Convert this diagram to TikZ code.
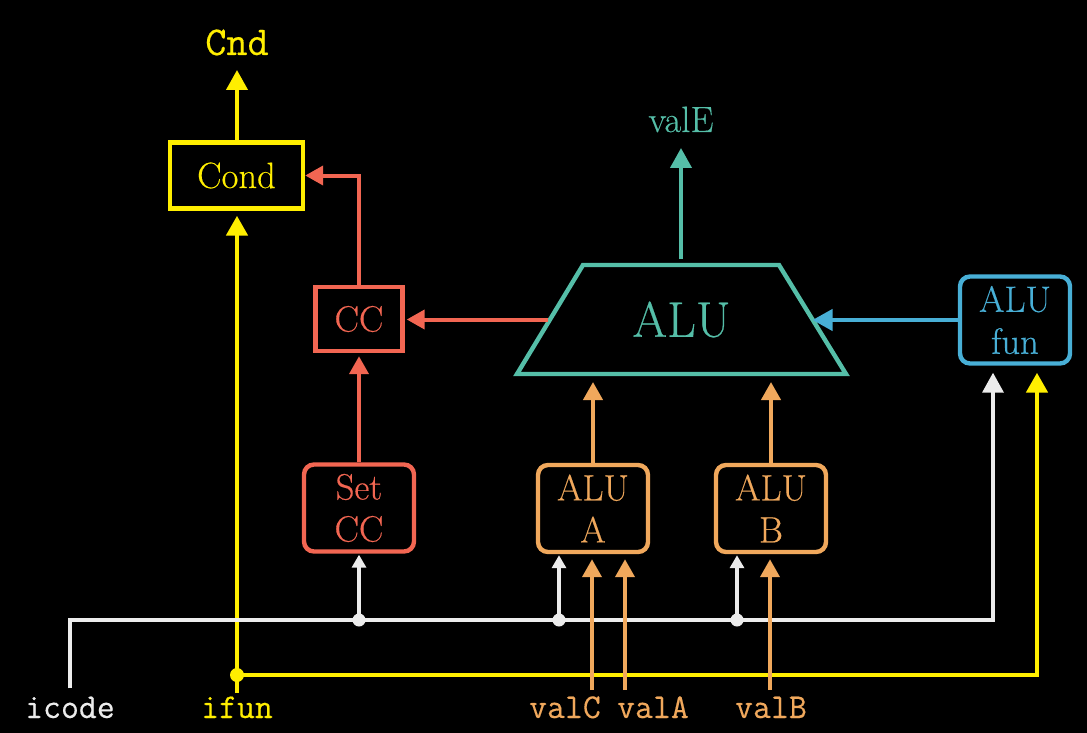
\documentclass[tikz,border=0pt]{standalone}
\usepackage{fontspec}
\setmainfont{Latin Modern Roman}[FakeBold=0.35]
\setmonofont{Latin Modern Mono}[FakeBold=0.35]
\usetikzlibrary{arrows.meta}
\definecolor{cyel}{RGB}{255,238,0}
\definecolor{cred}{RGB}{242,102,82}
\definecolor{corg}{RGB}{240,168,92}
\definecolor{cteal}{RGB}{85,190,168}
\definecolor{cblue}{RGB}{72,175,214}
\definecolor{cwht}{RGB}{236,236,236}
\begin{document}
\begin{tikzpicture}[x=0.5pt,y=-0.5pt,
  box/.style={draw, line width=2.2pt, inner sep=0pt, align=center, font=\fontsize{18.3}{21}\selectfont},
  rbox/.style={box, rounded corners=5pt, minimum width=55pt, minimum height=43.5pt},
  wire/.style={line width=2pt},
  bigarr/.style={-{Triangle[length=10pt,width=10.5pt]}},
  midarr/.style={-{Triangle[length=9pt,width=9.5pt]}},
  smallarr/.style={-{Triangle[length=6.5pt,width=7pt]}},
  ttlbl/.style={font=\fontsize{17.4}{17.4}\selectfont\ttfamily, inner sep=0pt, anchor=base},
  line join=miter
]
\fill[black] (0,0) rectangle (1087,733);
\useasboundingbox (0,0) rectangle (1087,733);

% nodes
\node[box, cyel, minimum width=66.5pt, minimum height=33pt] (cond) at (236.5,175.5) {Cond};
\node[font=\fontsize{20.5}{20.5}\selectfont\ttfamily, text=cyel, inner sep=0pt, anchor=base] (cnd) at (237,55) {Cnd};
\node[box, cred, minimum width=43.5pt, minimum height=32pt] (cc) at (359,319) {CC};
\node[rbox, cred] (setcc) at (359,508) {Set\\CC};
\node[rbox, corg] (alua) at (593,508.5) {ALU\\A};
\node[rbox, corg] (alub) at (771,508.5) {ALU\\B};
\node[rbox, cblue] (alufun) at (1015,320) {ALU\\fun};
\node[text=cteal, inner sep=0pt, font=\fontsize{25}{25}\selectfont] (alu) at (681.5,319.5) {ALU};
\node[text=cteal, font=\fontsize{18.3}{18.3}\selectfont, inner sep=0pt, anchor=base] (vale) at (681,132) {valE};

% ALU trapezoid outline and its anchor points
\coordinate (alutl) at (583,265);
\coordinate (alutr) at (779,265);
\coordinate (alubr) at (846,374);
\coordinate (alubl) at (517,374);
\coordinate (aluleft) at (550,319.5);
\coordinate (aluright) at (812.5,319.5);
\coordinate (alutop) at (681,265);
\coordinate (alubot) at (681,374);
\draw[cteal, line width=2.2pt, line join=miter] (alutl) -- (alutr) -- (alubr) -- (alubl) -- cycle;

\node[ttlbl, text=cwht] (icode) at (70,718) {icode};
\node[ttlbl, text=cyel] (ifun) at (237,718) {ifun};
\node[ttlbl, text=corg] (valc) at (565,718) {valC};
\node[ttlbl, text=corg] (vala) at (653,718) {valA};
\node[ttlbl, text=corg] (valb) at (771,718) {valB};

% junction coordinates
\coordinate (w0) at (70,620);
\coordinate (wd1) at (359,620);
\coordinate (wd2) at (559,620);
\coordinate (wd3) at (737,620);
\coordinate (w4) at (993,620);
\coordinate (yd) at (237,675);
\coordinate (y4) at (1037,675);
\coordinate (oc) at (592,690);
\coordinate (oa) at (625,690);
\coordinate (ob) at (770,690);

% yellow
\draw[wire, cyel, bigarr, shorten >=7.5pt] (cnd.base |- cond.north) -- (cnd.base);
\draw[wire, cyel, line width=2.4pt, bigarr, shorten >=2.5pt] ([yshift=1.5pt]ifun.north) -- (ifun.north |- cond.south);
\draw[wire, cyel, line width=2.4pt, bigarr, shorten >=3.5pt] (yd) -- (y4) -- (y4 |- alufun.south);
\fill[cyel] (yd) circle (3.5pt);

% white
\draw[wire, cwht, line width=1.8pt, bigarr, shorten >=3.5pt] ([yshift=4pt]icode.north) -- (w0) -- (w4) -- (w4 |- alufun.south);
\foreach \p/\n in {wd1/setcc, wd2/alua, wd3/alub}{
  \fill[cwht] (\p) circle (3.25pt);
  \draw[wire, cwht, line width=1.8pt, smallarr, shorten >=0.5pt] (\p) -- (\p |- \n.south);
}

% orange
\draw[wire, corg, midarr, shorten >=2.5pt] (oc) -- (oc |- alua.south);
\draw[wire, corg, midarr, shorten >=2.5pt] (oa) -- (oa |- alua.south);
\draw[wire, corg, midarr, shorten >=2.5pt] (ob) -- (ob |- alub.south);
\draw[wire, corg, midarr, shorten >=4pt] (alua.north) -- (alua.north |- alubot);
\draw[wire, corg, midarr, shorten >=4pt] (alub.north) -- (alub.north |- alubot);

% red
\draw[wire, cred, midarr, shorten >=1.5pt] (setcc.north) -- (cc.south);
\draw[wire, cred, midarr, shorten >=1pt] ([xshift=-1pt]aluleft) -- (aluleft -| cc.east);
\draw[wire, cred, midarr] (cc.north) |- (cond.east);

% blue
\draw[wire, cblue, bigarr] (alufun.west) -- (alufun.west -| aluright);

% teal
\draw[wire, cteal, bigarr, shorten >=8pt] ([yshift=3pt]alutop) -- (alutop |- vale.base);
\end{tikzpicture}
\end{document}
